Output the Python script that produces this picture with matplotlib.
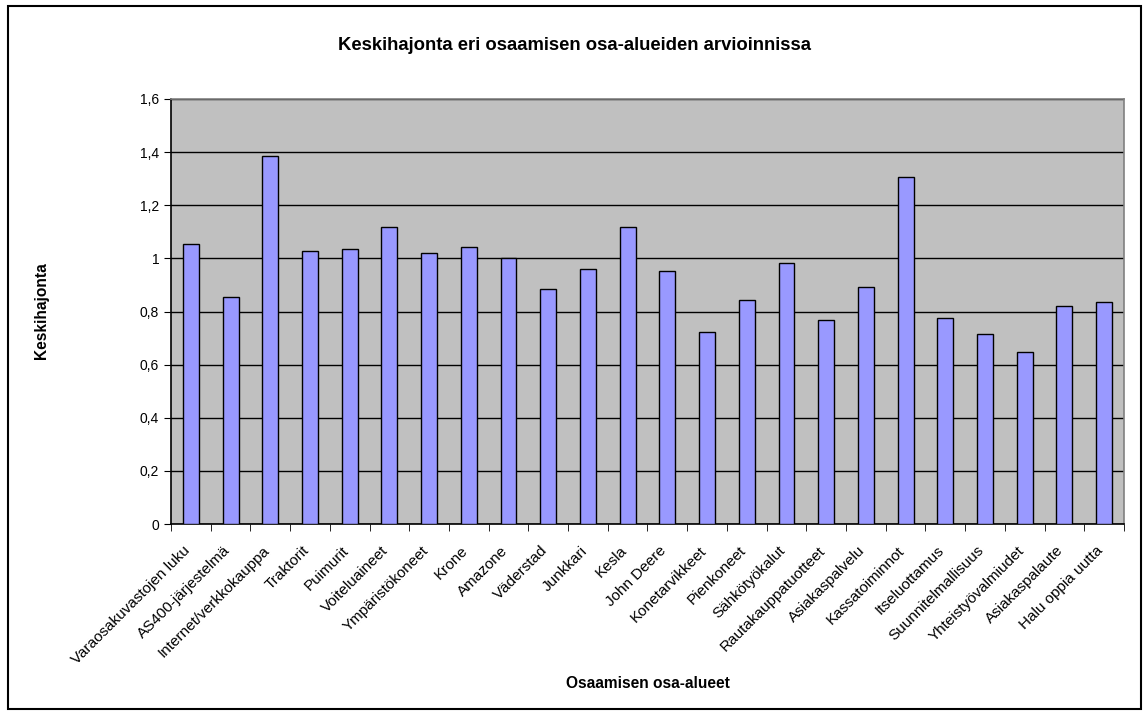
import matplotlib
matplotlib.use("Agg")
import matplotlib.pyplot as plt
import matplotlib.transforms as mtransforms
from matplotlib.ticker import FuncFormatter, MultipleLocator, FixedLocator
from matplotlib.patches import Rectangle

categories = ["Varaosakuvastojen luku", "AS400-järjestelmä", "Internet/verkkokauppa",
              "Traktorit", "Puimurit", "Voiteluaineet", "Ympäristökoneet", "Krone",
              "Amazone", "Väderstad", "Junkkari", "Kesla", "John Deere", "Konetarvikkeet",
              "Pienkoneet", "Sähkötyökalut", "Rautakauppatuotteet", "Asiakaspalvelu",
              "Kassatoiminnot", "Itseluottamus", "Suunnitelmallisuus", "Yhteistyövalmiudet",
              "Asiakaspalaute", "Halu oppia uutta"]
values = [1.053, 0.853, 1.386, 1.029, 1.037, 1.120, 1.022, 1.042, 1.002, 0.883, 0.961,
          1.117, 0.953, 0.722, 0.844, 0.981, 0.769, 0.892, 1.308, 0.776, 0.715, 0.646,
          0.821, 0.834]

title = "Keskihajonta eri osaamisen osa-alueiden arvioinnissa"
xlabel = "Osaamisen osa-alueet"
ylabel = "Keskihajonta"

plt.rcParams['font.family'] = ['Liberation Sans', 'DejaVu Sans']

W, H = 1145, 715
fig = plt.figure(figsize=(W / 100, H / 100), dpi=100)
fig.patch.set_facecolor("white")

# outer border
fig.add_artist(Rectangle((8 / W, 1 - 709 / H), (1141 - 8) / W, (709 - 6) / H,
                         transform=fig.transFigure, fill=False, edgecolor="black", linewidth=1.5))

left, right, top, bottom = 171, 1124, 99, 524
ax = fig.add_axes([left / W, 1 - bottom / H, (right - left) / W, (bottom - top) / H])
ax.set_facecolor("#C0C0C0")

x = list(range(len(categories)))
ax.bar(x, values, width=0.4, color="#9999FF", edgecolor="black", linewidth=1.0, zorder=3)

ax.set_xlim(-0.5, len(categories) - 0.5)
ax.set_ylim(0, 1.6)
ax.yaxis.set_major_locator(MultipleLocator(0.2))
ax.yaxis.set_major_formatter(FuncFormatter(lambda v, p: ("%g" % round(v, 1)).replace(".", ",")))
ax.grid(axis="y", color="black", linewidth=1.0, zorder=1)
ax.set_axisbelow(True)

ax.set_xticks(x)
ax.set_xticklabels(categories, rotation=45, ha="right", rotation_mode="anchor", fontsize=11)
ax.tick_params(axis="x", length=0, pad=14)
offset = mtransforms.ScaledTranslation(-8 / 100, 0, fig.dpi_scale_trans)
for lab in ax.get_xticklabels():
    lab.set_transform(lab.get_transform() + offset)
ax.xaxis.set_minor_locator(FixedLocator([i - 0.5 for i in range(len(categories) + 1)]))
ax.tick_params(axis="x", which="minor", length=5, direction="out", color="black")
ax.tick_params(axis="y", length=5, direction="out", labelsize=10, color="black")

for s in ["left", "bottom"]:
    ax.spines[s].set_color("black")
    ax.spines[s].set_linewidth(1.2)
for s in ["top", "right"]:
    ax.spines[s].set_color("#808080")
    ax.spines[s].set_linewidth(1.2)

fig.text(575 / W, 1 - 45 / H, title, ha="center", va="center", fontsize=13.3, fontweight="bold")
fig.text(648 / W, 1 - 683 / H, xlabel, ha="center", va="center", fontsize=11.2, fontweight="bold")
fig.text(42 / W, 1 - 311 / H, ylabel, ha="center", va="center", rotation=90, fontsize=11.2,
         fontweight="bold")

fig.savefig("out.png", dpi=100, facecolor="white")
